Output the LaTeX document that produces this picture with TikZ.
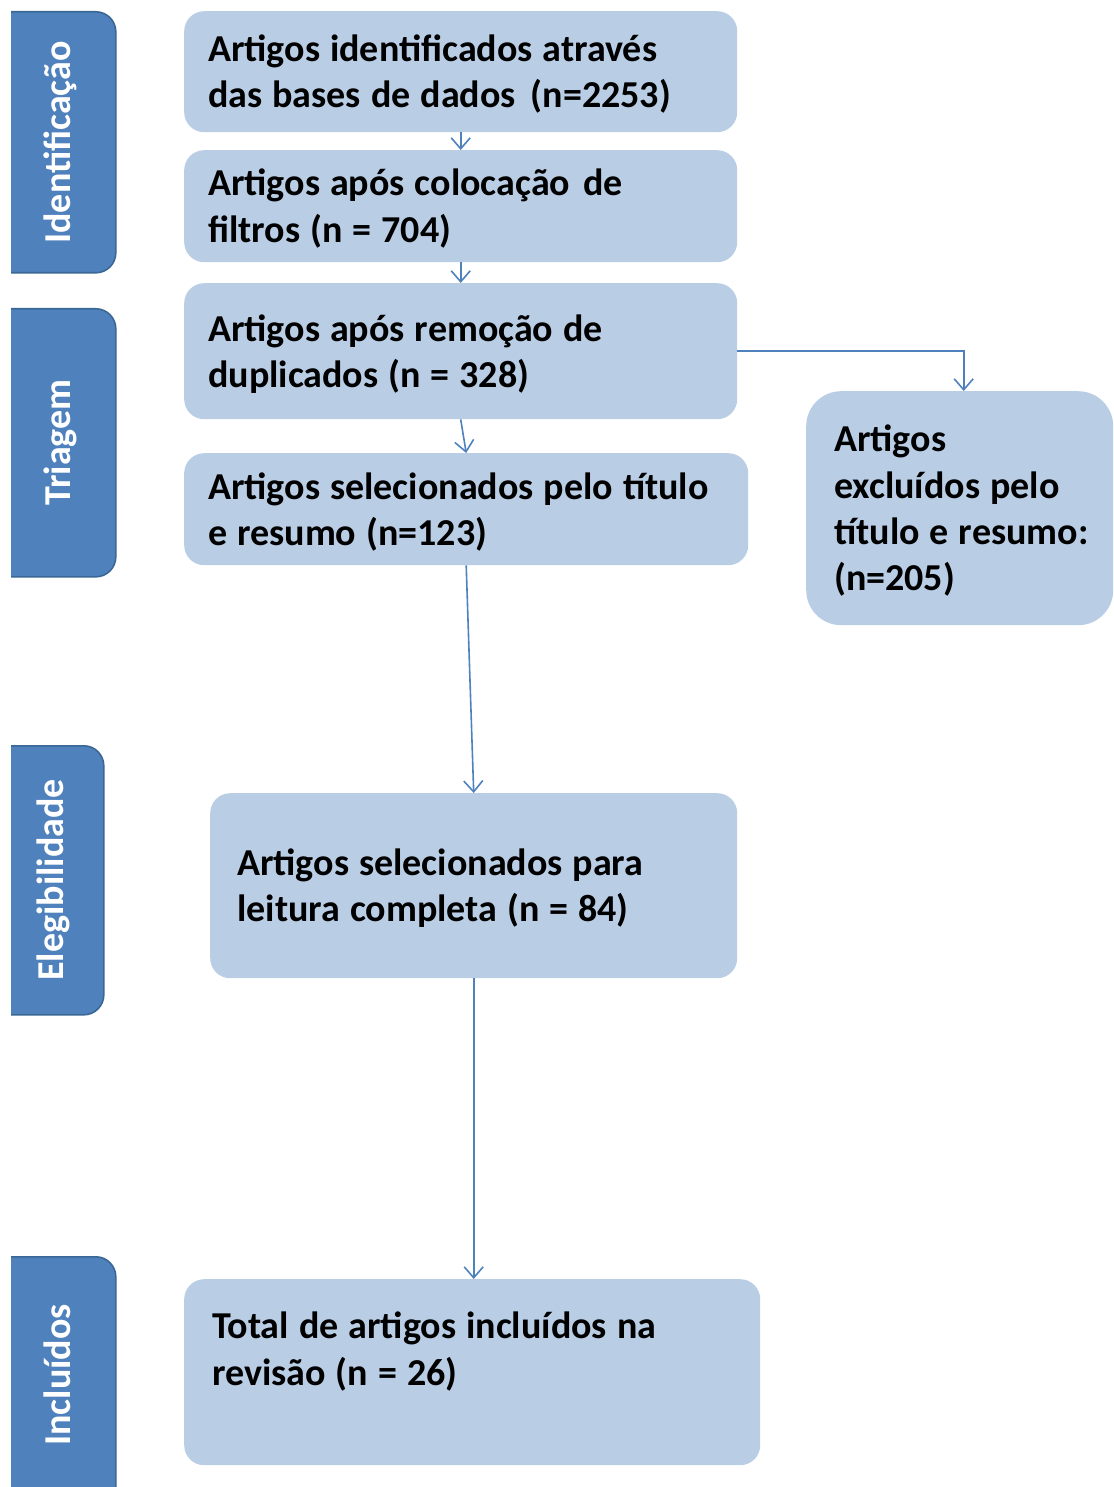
\documentclass[tikz,border=0pt]{standalone}
\usepackage{fontspec}
\setmainfont{Carlito}
\usetikzlibrary{arrows.meta}
\definecolor{boxfill}{HTML}{B9CDE5}
\definecolor{sidefill}{HTML}{4F81BD}
\definecolor{sideedge}{HTML}{3B6795}
\definecolor{arrowcol}{HTML}{4F81BD}
\newcommand\wstrut{\rule[-10.2pt]{0pt}{46.4pt}}
\newcommand\Lline[1]{\mbox{\spaceskip=10pt\relax\xspaceskip=10pt\relax\wstrut#1}}
\newcommand\boxfont{\fontsize{38}{46.4}\selectfont\bfseries}
\begin{document}
\begin{tikzpicture}[x=1pt,y=-1pt,
  box/.style={fill=boxfill, draw=none, rounded corners=20pt, align=left, anchor=north west,
    inner ysep=0pt, font=\boxfont},
  sidebox/.style={fill=sidefill, draw=sideedge, line width=1.6pt, rounded corners=20pt,
    anchor=north west, inner sep=0pt},
  sidetext/.style={rotate=90, anchor=base, text=white, inner sep=0pt,
    font=\fontsize{38}{46.4}\selectfont\bfseries},
  arr/.style={draw=arrowcol, line width=1.6pt, -{Straight Barb[length=11pt,width=19pt,line width=1.6pt]}}
]
\useasboundingbox (0,0) rectangle (1113,1487);
\clip (11,0) rectangle (1113,1487);

% phase labels
\node[sidebox, minimum width=125pt, minimum height=261pt] (s1) at (-10,11) {};
\node[sidebox, minimum width=125pt, minimum height=268pt] (s2) at (-10,308) {};
\node[sidebox, minimum width=113pt, minimum height=269pt] (s3) at (-10,745) {};
\node[sidebox, minimum width=125pt, minimum height=280pt] (s4) at (-10,1256) {};
\node[sidetext] (t1) at (70.5,142.5) {Identificação};
\node[sidetext] (t2) at (70.5,442.5) {Triagem};
\node[sidetext] (t3) at (63,880) {Elegibilidade};
\node[sidetext] (t4) at (70.5,1375) {Incluídos};

% flow boxes
\node[box, text width=505pt, inner xsep=24pt, minimum height=121pt] (b1) at (184,11)
  {\Lline{Artigos identificados através}\\\Lline{das bases de dados\hspace{5pt} (n=2253)}};
\node[box, text width=505pt, inner xsep=24pt, minimum height=112pt] (b2) at (184,150)
  {\Lline{Artigos após colocação\hspace{3pt} de}\\\Lline{filtros (n = 704)}};
\node[box, text width=505pt, inner xsep=24pt, minimum height=136pt] (b3) at (184,283)
  {\Lline{Artigos após remoção de}\\\Lline{duplicados (n = 328)}};
\node[box, text width=516pt, inner xsep=24pt, minimum height=112pt] (b4) at (184,453)
  {\Lline{Artigos selecionados pelo título}\\\Lline{e resumo (n=123)}};
\node[box, rounded corners=35pt, text width=251pt, inner xsep=28pt, minimum height=234pt] (b5) at (806,391)
  {\Lline{Artigos}\\\Lline{excluídos pelo}\\\Lline{título e resumo:}\\\Lline{(n=205)}};
\node[box, text width=473pt, inner xsep=27pt, minimum height=185pt] (b6) at (210,793)
  {\Lline{Artigos selecionados para}\\\Lline{leitura completa (n = 84)}};
\node[box, text width=520pt, inner xsep=28pt, minimum height=186pt] (b7) at (184,1279)
  {\Lline{Total de artigos incluídos na}\\\Lline{revisão (n = 26)}\\\Lline{}};

% connectors
\draw[arr] (b1.south) -- (b2.north);
\draw[arr] (b2.south) -- (b3.north);
\draw[arr] (b3.south) -- (b4.north);
\draw[arr] (b3.east) -| ([xshift=4pt]b5.north);
\draw[arr] (b4.south) -- (b6.north);
\draw[arr] (b6.south) -- (b6.south |- b7.north);
\end{tikzpicture}
\end{document}
